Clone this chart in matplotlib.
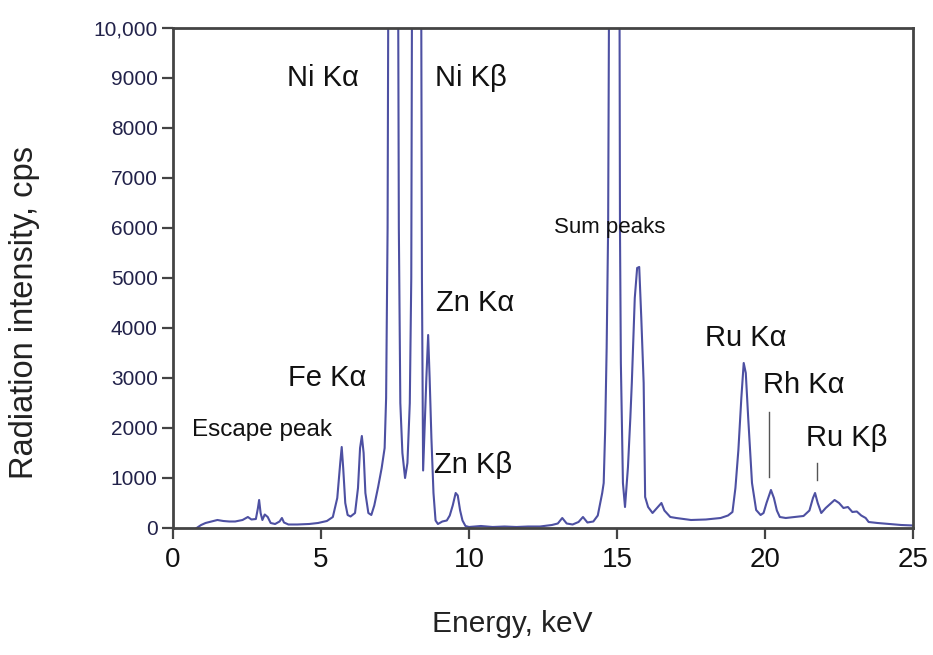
import matplotlib
matplotlib.use("Agg")
import matplotlib.pyplot as plt
from matplotlib.ticker import FixedLocator

plt.rcParams['font.family'] = ['Liberation Sans', 'DejaVu Sans']

# spectrum (keV, cps); peaks above 10,000 are clipped by the axes
energy = [0.8, 0.95, 1.1, 1.3, 1.5, 1.7, 1.9, 2.1, 2.35, 2.53, 2.65, 2.8, 2.87, 2.91,
          2.96, 3.02, 3.1, 3.2, 3.3, 3.45, 3.6, 3.68, 3.75, 3.9, 4.2, 4.6, 4.9, 5.2,
          5.4, 5.55, 5.65, 5.7, 5.75, 5.82, 5.9, 6.0, 6.15, 6.25, 6.32, 6.38, 6.44,
          6.5, 6.6, 6.7, 6.8, 6.93, 7.05, 7.15, 7.2, 7.25, 7.28, 7.6, 7.63, 7.68,
          7.75, 7.84, 7.92, 8.0, 8.05, 8.08, 8.38, 8.41, 8.45, 8.5, 8.56, 8.62, 8.67,
          8.73, 8.8, 8.87, 8.95, 9.1, 9.25, 9.35, 9.45, 9.55, 9.62, 9.7, 9.78, 9.88,
          10.0, 10.4, 10.8, 11.2, 11.6, 12.0, 12.4, 12.8, 13.0, 13.15, 13.3, 13.5,
          13.7, 13.85, 14.0, 14.2, 14.35, 14.5, 14.55, 14.6, 14.65, 14.7, 14.74,
          15.08, 15.1, 15.13, 15.2, 15.27, 15.37, 15.45, 15.5, 15.6, 15.68, 15.75,
          15.82, 15.9, 15.95, 16.05, 16.2, 16.35, 16.5, 16.6, 16.8, 17.0, 17.5, 18.0,
          18.5, 18.75, 18.9, 19.0, 19.1, 19.2, 19.28, 19.35, 19.43, 19.5, 19.56,
          19.7, 19.85, 19.95, 20.05, 20.2, 20.3, 20.4, 20.5, 20.7, 21.0, 21.3, 21.5,
          21.62, 21.69, 21.78, 21.9, 22.05, 22.2, 22.35, 22.5, 22.65, 22.8, 22.95,
          23.1, 23.25, 23.4, 23.5, 23.8, 24.2, 24.6, 25.0]
intensity = [0, 60, 100, 130, 160, 140, 130, 130, 160, 220, 170, 180, 400, 560,
             300, 160, 270, 220, 100, 80, 130, 200, 110, 70, 70, 80, 100, 140,
             220, 600, 1300, 1620, 1200, 500, 260, 230, 300, 800, 1600, 1840, 1500,
             700, 300, 260, 450, 820, 1200, 1600, 2600, 6000, 12000, 12000, 6000, 2500,
             1500, 1000, 1300, 2500, 5000, 12000, 12000, 5000, 1150, 2000, 3000, 3860, 3000,
             1800, 700, 150, 80, 130, 150, 250, 450, 700, 650, 350, 150, 40,
             20, 40, 20, 30, 20, 30, 30, 60, 90, 200, 90, 70,
             120, 220, 110, 130, 250, 700, 900, 1960, 3600, 6000, 12000,
             12000, 6000, 3300, 900, 420, 1220, 2200, 2900, 4600, 5200, 5220,
             4200, 2900, 620, 420, 300, 400, 500, 350, 220, 200, 160, 170,
             200, 250, 320, 800, 1560, 2600, 3300, 3100, 2220, 1500, 900,
             360, 260, 300, 500, 760, 600, 350, 220, 200, 220, 240, 350,
             600, 700, 500, 300, 400, 480, 560, 500, 400, 420, 320,
             330, 250, 200, 120, 100, 80, 60, 50]

x_ticks = [0, 5, 10, 15, 20, 25]
y_ticks = [0, 1000, 2000, 3000, 4000, 5000, 6000, 7000, 8000, 9000, 10000]
y_tick_labels = ["0", "1000", "2000", "3000", "4000", "5000", "6000",
                 "7000", "8000", "9000", "10,000"]

# peak labels: (text, x keV, y cps, font size)
peak_labels = [("Ni K\u03b1", 5.05, 9000, 21), ("Ni K\u03b2", 10.05, 9000, 21),
               ("Zn K\u03b1", 10.2, 4500, 21), ("Fe K\u03b1", 5.2, 3000, 21),
               ("Escape peak", 3.0, 1950, 17.5), ("Zn K\u03b2", 10.15, 1250, 21),
               ("Sum peaks", 14.75, 6000, 16), ("Ru K\u03b1", 19.35, 3800, 21),
               ("Rh K\u03b1", 21.3, 2850, 21), ("Ru K\u03b2", 22.75, 1800, 21)]
# short marker strokes under Rh Ka and Ru Kb: (x, y0, y1)
markers = [(20.15, 1020, 2320), (21.76, 960, 1300)]

fig = plt.figure(figsize=(9.33, 6.55), dpi=100)
ax = fig.add_axes([0.1854, 0.1939, 0.7932, 0.7634])

ax.plot(energy, intensity, color='#2e3192', linewidth=1.5, alpha=0.85)

for x, y0, y1 in markers:
    ax.plot([x, x], [y0, y1], color='#555555', linewidth=1.0)

for text, x, y, fs in peak_labels:
    ax.text(x, y, text, fontsize=fs, ha='center', va='center', color='#111111')

ax.set_xlim(0, 25)
ax.set_ylim(0, 10000)
ax.xaxis.set_major_locator(FixedLocator(x_ticks))
ax.yaxis.set_major_locator(FixedLocator(y_ticks))
ax.set_yticklabels(y_tick_labels)

for s in ax.spines.values():
    s.set_color('#444444')
    s.set_linewidth(2)

ax.tick_params(axis='both', direction='out', length=8, width=1.6, color='#444444')
ax.tick_params(axis='x', labelsize=20, pad=6, labelcolor='#111111')
ax.tick_params(axis='y', labelsize=15, pad=3, labelcolor='#22224a')

ax.set_xlabel("Energy, keV", fontsize=21.5, color='#222222')
ax.xaxis.set_label_coords(0.458, -0.165)
ax.set_ylabel("Radiation intensity, cps", fontsize=23.5, color='#222222')
ax.yaxis.set_label_coords(-0.18, 0.43)

plt.savefig("out.png", dpi=100)
plt.close()
